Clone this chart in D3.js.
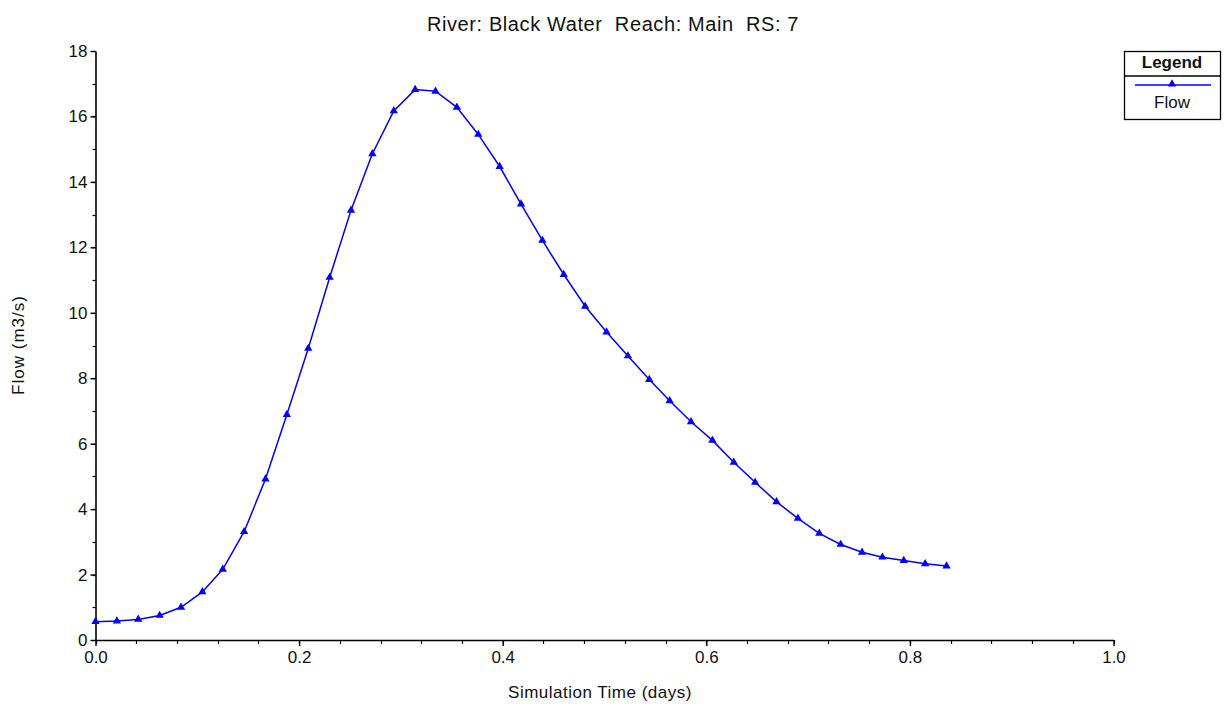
<!DOCTYPE html>
<html><head><meta charset="utf-8">
<script src="https://cdn.jsdelivr.net/npm/d3@7/dist/d3.min.js"></script>
<style>
html,body{margin:0;padding:0;background:#fff;}
svg{display:block;font-family:"Liberation Sans",Arial,sans-serif;}
</style></head>
<body>
<svg id="chart" width="1228" height="704"></svg>
<script>
const titleText = "River: Black Water  Reach: Main  RS: 7";
const xTitle = "Simulation Time (days)";
const yTitle = "Flow (m3/s)";
const seriesName = "Flow";
const time = [0.000,0.021,0.042,0.063,0.084,0.105,0.125,0.146,0.167,0.188,0.209,0.230,0.251,0.272,0.293,0.314,0.334,0.355,0.376,0.397,0.418,0.439,0.460,0.481,0.502,0.523,0.544,0.564,0.585,0.606,0.627,0.648,0.669,0.690,0.711,0.732,0.753,0.773,0.794,0.815,0.836];
const flow = [0.56,0.58,0.63,0.75,1.00,1.47,2.16,3.31,4.92,6.89,8.91,11.08,13.13,14.86,16.17,16.82,16.77,16.28,15.45,14.47,13.32,12.21,11.17,10.20,9.41,8.68,7.96,7.31,6.67,6.10,5.43,4.82,4.22,3.72,3.26,2.92,2.68,2.53,2.43,2.33,2.26];
const xTicks = [0,0.2,0.4,0.6,0.8,1.0];
const yTicks = [0,2,4,6,8,10,12,14,16,18];

const svg = d3.select("#chart");
const L = 95.5, R = 1113.5, T = 51, B = 640;
const x = d3.scaleLinear().domain([0,1]).range([L,R]);
const y = d3.scaleLinear().domain([0,18]).range([B,T]);

// minor ticks
const xMinor = d3.range(0,1.0001,0.04);
const yMinor = d3.range(0,18.001,1);
const gx = svg.append("g").attr("transform",`translate(0,${B})`);
gx.selectAll("line.minor").data(xMinor).join("line")
  .attr("x1",d=>Math.round(x(d))+0.5).attr("x2",d=>Math.round(x(d))+0.5)
  .attr("y1",0).attr("y2",4).attr("stroke","#000").attr("stroke-width",1.2);
gx.call(d3.axisBottom(x).tickValues(xTicks).tickFormat(d3.format(".1f")).tickSize(6).tickPadding(5).tickSizeOuter(0));
gx.select(".domain").attr("stroke","#000").attr("stroke-width",1.6);
gx.selectAll(".tick line").attr("stroke-width",1.4);
gx.selectAll(".tick text").attr("font-size",17).attr("fill","#111").attr("font-family","Liberation Sans, Arial, sans-serif");

const gy = svg.append("g").attr("transform",`translate(${L},0)`);
gy.selectAll("line.minor").data(yMinor).join("line")
  .attr("y1",d=>Math.round(y(d))+0.5).attr("y2",d=>Math.round(y(d))+0.5)
  .attr("x1",0).attr("x2",-3).attr("stroke","#000").attr("stroke-width",1.2);
gy.call(d3.axisLeft(y).tickValues(yTicks).tickFormat(d3.format("d")).tickSize(5).tickPadding(3).tickSizeOuter(0));
gy.select(".domain").attr("stroke","#000").attr("stroke-width",1.6);
gy.selectAll(".tick line").attr("stroke-width",1.4);
gy.selectAll(".tick text").attr("font-size",17).attr("fill","#111").attr("font-family","Liberation Sans, Arial, sans-serif");

// title
svg.append("text").attr("x",613).attr("y",31).attr("text-anchor","middle")
  .attr("font-size",20).attr("letter-spacing",0.6).attr("fill","#111").style("white-space","pre").text(titleText);
svg.append("text").attr("x",600).attr("y",698).attr("text-anchor","middle")
  .attr("font-size",17).attr("letter-spacing",0.5).attr("fill","#111").text(xTitle);
svg.append("text").attr("transform","translate(24,345) rotate(-90)").attr("text-anchor","middle")
  .attr("font-size",17).attr("letter-spacing",1).attr("fill","#111").text(yTitle);

// series
const data = time.map((t,i)=>({t, v: flow[i]}));
svg.append("path").datum(data)
  .attr("fill","none").attr("stroke","#0000ff").attr("stroke-width",1.5)
  .attr("d", d3.line().x(d=>x(d.t)).y(d=>y(d.v)));
const tri = d3.symbol().type(d3.symbolTriangle).size(30);
svg.selectAll("path.pt").data(data).join("path").attr("class","pt")
  .attr("transform",d=>`translate(${x(d.t)},${y(d.v)})`)
  .attr("d",tri()).attr("fill","#0000ff");

// legend
const lg = svg.append("g");
lg.append("rect").attr("x",1124.5).attr("y",51.5).attr("width",96).attr("height",68)
  .attr("fill","#fff").attr("stroke","#000").attr("stroke-width",1.3);
lg.append("line").attr("x1",1124.5).attr("x2",1220.5).attr("y1",76).attr("y2",76)
  .attr("stroke","#000").attr("stroke-width",1.3);
lg.append("text").attr("x",1172).attr("y",68).attr("text-anchor","middle")
  .attr("font-size",17).attr("font-weight","bold").attr("fill","#111").text("Legend");
lg.append("line").attr("x1",1135).attr("x2",1211).attr("y1",85).attr("y2",85)
  .attr("stroke","#0000ff").attr("stroke-width",1.5);
lg.append("path").attr("transform","translate(1172,84)").attr("d",tri()).attr("fill","#0000ff");
lg.append("text").attr("x",1172).attr("y",108).attr("text-anchor","middle")
  .attr("font-size",17).attr("fill","#111").text(seriesName);
</script>
</body></html>
